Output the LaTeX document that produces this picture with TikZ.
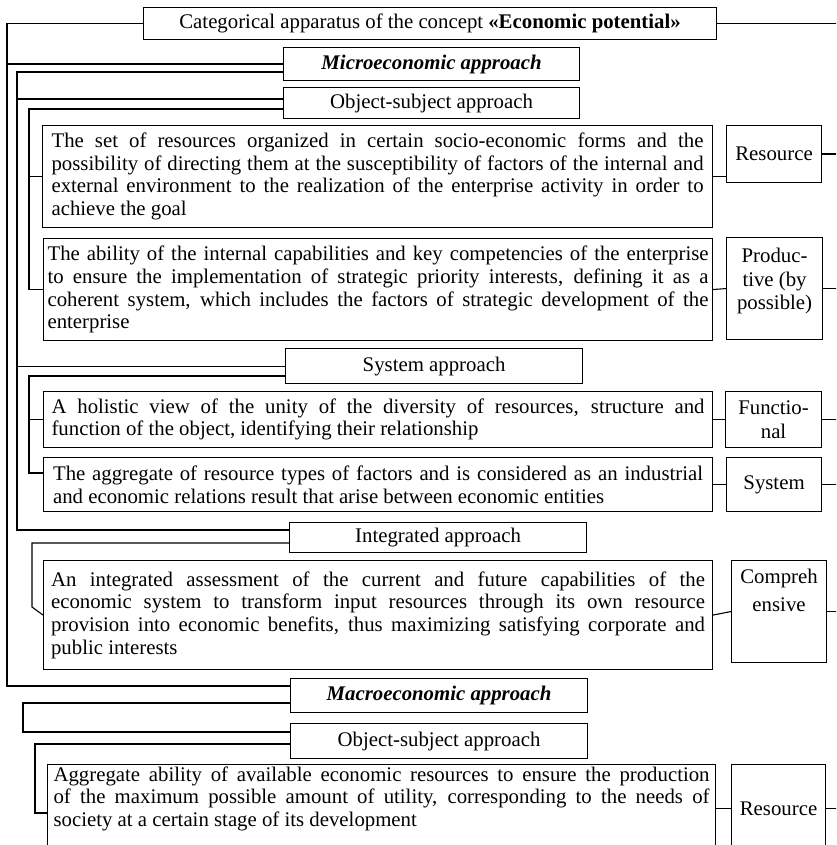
\documentclass[tikz,border=0pt]{standalone}
\usepackage{fontspec}
\setmainfont{Liberation Serif}
\tolerance=10000
\hyphenpenalty=10000
\exhyphenpenalty=10000
\begin{document}
\begin{tikzpicture}[x=1pt,y=-1pt,line width=1.1pt,
  font=\fontsize{20.8}{22.7}\selectfont,
  hdr/.style={draw, anchor=north west, inner sep=0pt},
  desc/.style={draw, anchor=north west, inner ysep=0pt, align=justify},
  lbl/.style={draw, anchor=north west, inner sep=0pt, align=center}]
\useasboundingbox (0,0) rectangle (836,845);
\fill[white] (0,0) rectangle (836,845);
\clip (0,0) rectangle (836,845);

% headers
\node[hdr, minimum width=573, minimum height=32] (title) at (143,7) {Categorical apparatus of the concept \textbf{«Economic potential»}};
\node[hdr, minimum width=296, minimum height=33] (micro) at (283,47) {\textbf{\textit{Microeconomic approach}}};
\node[hdr, minimum width=296, minimum height=31] (os1) at (283,87) {Object-subject approach};
\node[hdr, minimum width=297, minimum height=35] (sys) at (285,348) {System approach};
\node[hdr, minimum width=297, minimum height=30] (integ) at (289,522) {Integrated approach};
\node[hdr, minimum width=297, minimum height=34] (macro) at (290,678) {\textbf{\textit{Macroeconomic approach}}};
\node[hdr, minimum width=297, minimum height=35] (os2) at (290,723) {Object-subject approach};

% description boxes
\node[desc, text width=652, inner xsep=9, minimum height=102] (d1) at (42,125) {The set of resources organized in certain socio-economic forms and the\linebreak possibility of directing them at the susceptibility of factors of the internal and\linebreak external environment to the realization of the enterprise activity in order to\linebreak achieve the goal};
\node[desc, text width=661, inner xsep=4, minimum height=102] (d2) at (43,238) {The ability of the internal capabilities and key competencies of the enterprise\linebreak to ensure the implementation of strategic priority interests, defining it as a\linebreak coherent system, which includes the factors of strategic development of the\linebreak enterprise};
\node[desc, text width=653, inner xsep=8, minimum height=56] (d3) at (43,391) {A holistic view of the unity of the diversity of resources, structure and\linebreak function of the object, identifying their relationship};
\node[desc, text width=650, inner xsep=9.5, minimum height=54] (d4) at (43,457) {The aggregate of resource types of factors and is considered as an industrial\linebreak and economic relations result that arise between economic entities};
\node[desc, text width=654, inner xsep=7.5, minimum height=109] (d5) at (43,560) {An integrated assessment of the current and future capabilities of the\linebreak economic system to transform input resources through its own resource\linebreak provision into economic benefits, thus maximizing satisfying corporate and\linebreak public interests};
\node[desc, text width=656, inner xsep=6, inner ysep=2pt] (d6) at (47,764) {Aggregate ability of available economic resources to ensure the production\linebreak of the maximum possible amount of utility, corresponding to the needs of\linebreak society at a certain stage of its development\rule[-40pt]{0pt}{40pt}};

% label boxes
\node[lbl, minimum width=95, minimum height=57] (r1) at (726,125) {Resource};
\node[lbl, minimum width=96, minimum height=102] (p1) at (726,237) {Produc-\\[1pt]tive (by\\[1pt]possible)\rule[-19pt]{0pt}{19pt}};
\node[lbl, minimum width=96, minimum height=56] (f1) at (725,391) {Functio-\\[1pt]nal};
\node[lbl, minimum width=95, minimum height=54] (s1) at (726,457) {System};
\node[lbl, minimum width=95, minimum height=102] (c1) at (731,560) {};
\node[anchor=north, align=center, inner sep=0pt] (c1t) at ([yshift=-9pt]c1.north) {Compreh\\[5pt]ensive};
\node[lbl, minimum width=94, minimum height=88] (r2) at (731,764) {Resource};

% right-hand lines
\coordinate (R) at (860,0);
\draw (title.east) -- (title.east -| R);
\draw (r1.east) -- (r1.east -| R);
\draw (p1.east) -- (p1.east -| R);
\draw (f1.east) -- (f1.east -| R);
\draw (s1.east) -- (s1.east -| R);
\draw (c1.east) -- (c1.east -| R);
\draw (r2.east) -- (r2.east -| R);

% description to label connectors
\draw (d1.east) -- (d1.east -| r1.west);
\draw (d2.east) -- (p1.west);
\draw (d3.east) -- (f1.west);
\draw (d4.east) -- (s1.west);
\draw (d5.east) -- (c1.west);
\draw (r2.west) -- (r2.west -| d6.east);

% left spines
\coordinate (A1) at (7,686);
\draw (title.west) -| (A1) -- (A1 -| macro.west);
\draw (micro.west) -- (micro.west -| A1);

\coordinate (B1) at (17,72);
\coordinate (B2) at (17,530);
\coordinate (B3) at (17,99);
\draw (B1 -| micro.west) -- (B1) -- (B2) -- (B2 -| integ.west);
\draw (B3) -- (B3 -| os1.west);
\draw (sys.west) -- (sys.west -| B1);

\coordinate (C1) at (29,109);
\draw (C1 -| os1.west) -- (C1) |- (d2.west);
\draw (d1.west) -- (d1.west -| C1);

\coordinate (D1) at (29,376);
\coordinate (D2) at (29,473);
\draw (D1 -| sys.west) -- (D1) -- (D2) -- (D2 -| d4.west);
\draw (d3.west) -- (d3.west -| D1);

\coordinate (E1) at (32,543);
\coordinate (E2) at (32,607);
\draw (E1 -| integ.west) -- (E1) -- (E2) -- (d5.west);

\coordinate (F1) at (23,703);
\coordinate (F2) at (23,732);
\draw (F1 -| macro.west) -- (F1) -- (F2) -- (F2 -| os2.west);

\coordinate (G1) at (35,744);
\coordinate (G2) at (35,813);
\draw (G1 -| os2.west) -- (G1) -- (G2) -- (G2 -| d6.west);
\end{tikzpicture}
\end{document}
